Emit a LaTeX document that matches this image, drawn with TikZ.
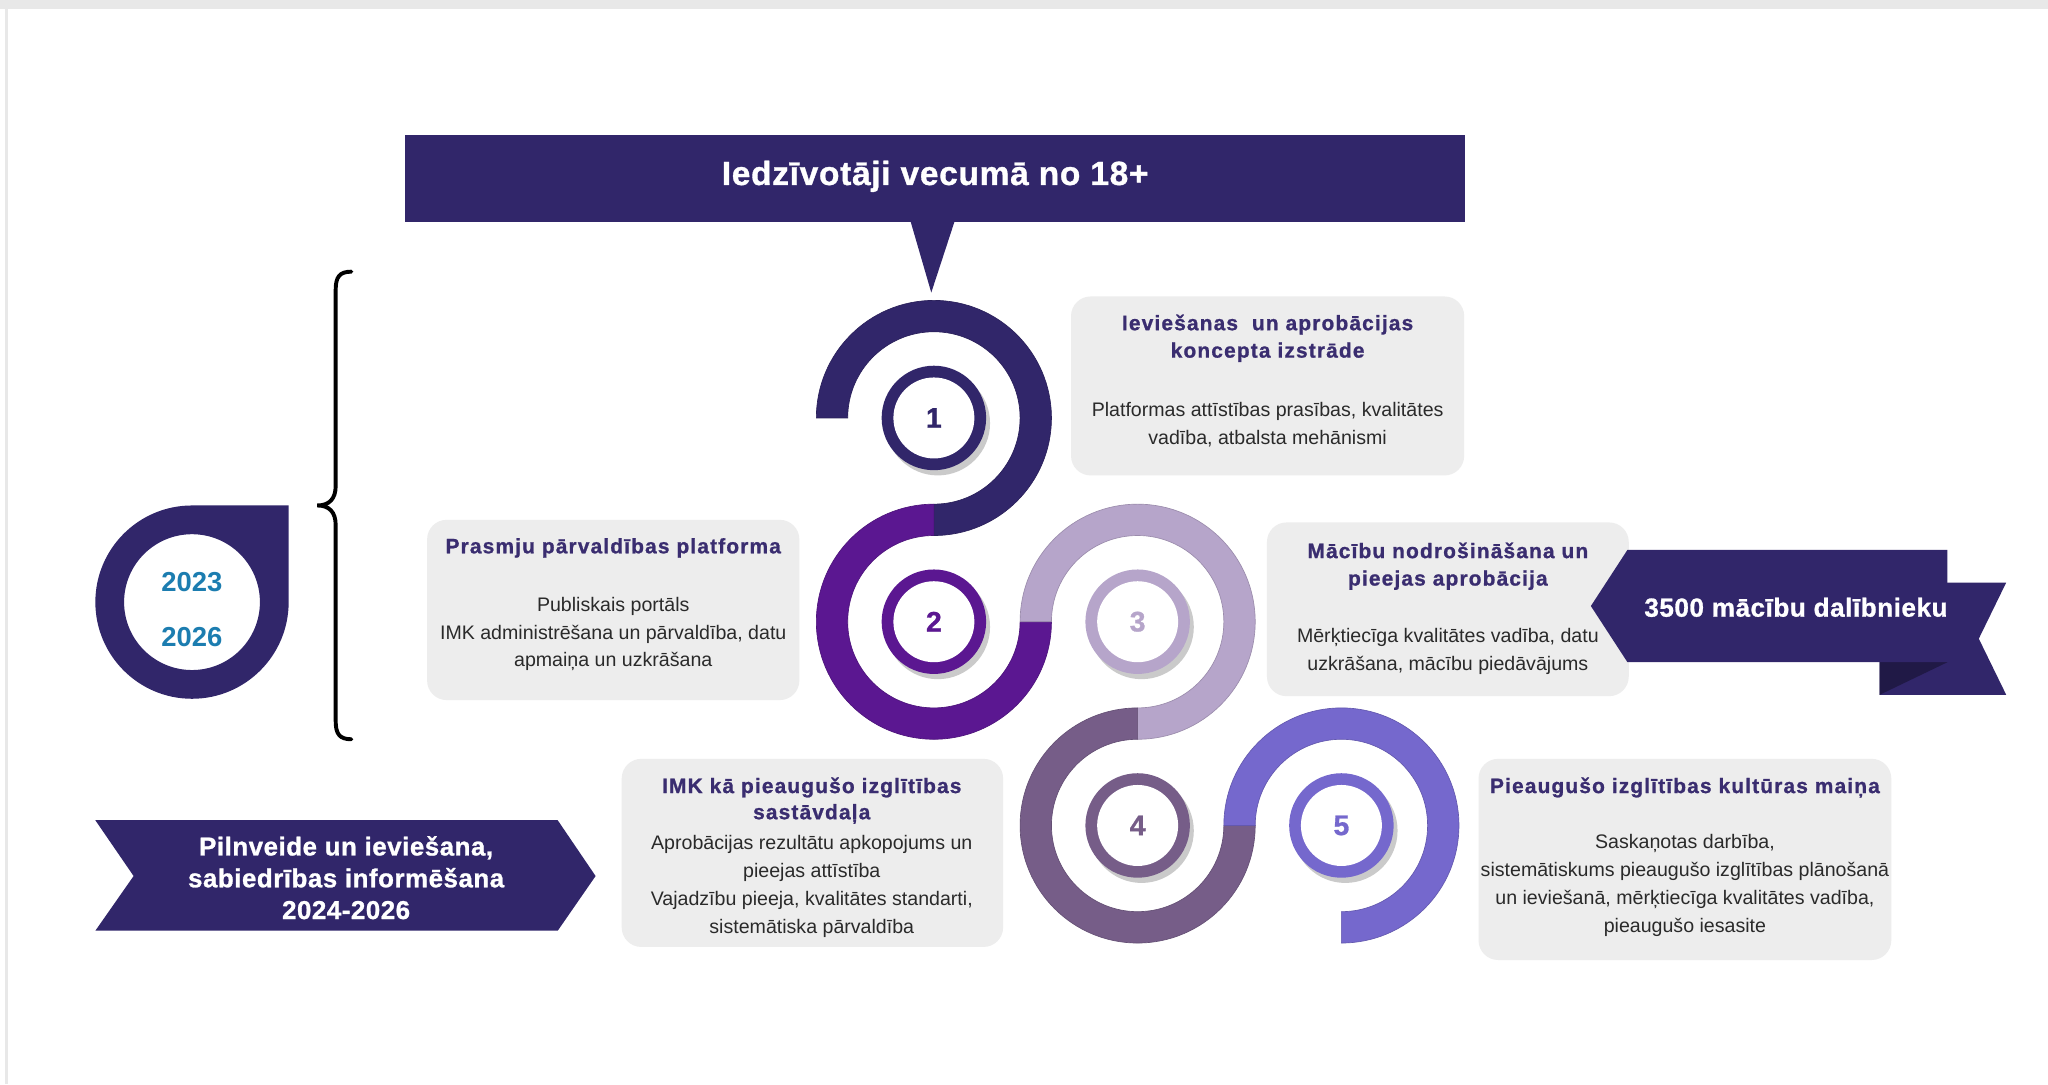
\documentclass[tikz,border=0pt]{standalone}
\usepackage{fontspec}
\setmainfont{Liberation Sans}
\newfontfamily\lsfont{Liberation Sans}[LetterSpace=5.5, BoldFeatures={FakeBold=1}]
\newfontfamily\hdfont{Liberation Sans}[LetterSpace=2, BoldFeatures={FakeBold=1}]
\usetikzlibrary{calc}
\definecolor{dark}{HTML}{31266A}
\definecolor{purpletwo}{HTML}{5B1791}
\definecolor{lavthree}{HTML}{B6A5CA}
\definecolor{mauvefour}{HTML}{765D88}
\definecolor{violetfive}{HTML}{7568CD}
\definecolor{boxgray}{HTML}{EDEDED}
\definecolor{titlecol}{HTML}{3A2D70}
\definecolor{bodycol}{HTML}{2A2A2A}
\definecolor{yearcol}{HTML}{1C7DB0}
\definecolor{foldcol}{HTML}{201946}
\definecolor{framegray}{HTML}{E8E8E8}
\definecolor{shadowgray}{HTML}{BDBDBD}
\newcommand\ringseg[4]{%
  \fill[#4, draw=#4!85!black, line width=0.3pt, shift={(#1)}] (#2:90) arc[start angle=#2,end angle=#3,radius=90]
    -- (#3:66) arc[start angle=#3,end angle=#2,radius=66] -- cycle;}
\newcommand\smallring[3]{%
  \fill[shadowgray, opacity=0.8] ($(#1)+(3,4)$) circle[radius=40];
  \fill[#2] (#1) circle[radius=40];
  \fill[white] (#1) circle[radius=31];
  \node[numtxt, text=#2] (n#3) at (#1) {#3};}
\begin{document}
\begin{tikzpicture}[x=0.6pt,y=-0.6pt,
  ttl/.style={font=\lsfont\bfseries\fontsize{9.6}{12.6}\selectfont, text=titlecol, align=center, inner sep=0pt},
  bdy/.style={font=\fontsize{9}{12.6}\selectfont, text=bodycol, align=center, inner sep=0pt},
  boxfill/.style={fill=boxgray, rounded corners=9pt},
  numtxt/.style={font=\hdfont\bfseries\fontsize{13}{14}\selectfont, inner sep=0pt},
  whitebold/.style={font=\hdfont\bfseries, text=white, align=center, inner sep=0pt},
  yr/.style={font=\bfseries\fontsize{12.6}{14}\selectfont, text=yearcol, inner sep=0pt}]
\useasboundingbox (0,0) rectangle (1568,830);
\fill[white] (0,0) rectangle (1568,830);
\fill[framegray] (0,0) rectangle (1568,7);
\draw[framegray, line width=1pt] (5,7) -- (5,830);

% top banner
\fill[dark] (310,103) rectangle (1122,170);
\fill[dark] (697,169) -- (731,169) -- (713,224) -- cycle;
\node[whitebold, font=\hdfont\bfseries\fontsize{15.4}{17}\selectfont] (topt) at (716,135) {Iedzīvotāji vecumā no 18+};

% centres
\coordinate (C1) at (715,320);
\coordinate (C2) at (715,476);
\coordinate (C3) at (871,476);
\coordinate (C4) at (871,632);
\coordinate (C5) at (1027,632);

% big arcs
\ringseg{C1}{180}{450}{dark}
\ringseg{C2}{0}{270}{purpletwo}
\ringseg{C3}{180}{450}{lavthree}
\ringseg{C4}{0}{270}{mauvefour}
\ringseg{C5}{180}{450}{violetfive}

% small rings
\smallring{C1}{dark}{1}
\smallring{C2}{purpletwo}{2}
\smallring{C3}{lavthree}{3}
\smallring{C4}{mauvefour}{4}
\smallring{C5}{violetfive}{5}

% boxes
\fill[boxfill] (820,227) rectangle (1121,364);
\node[ttl] (t1) at (970.5,259) {Ieviešanas\ \ un aprobācijas\\koncepta izstrāde};
\node[bdy] (b1) at (970.5,325) {Platformas attīstības prasības, kvalitātes\\vadība, atbalsta mehānismi};

\fill[boxfill] (327,398) rectangle (612,536);
\node[ttl] (t2) at (469.5,419.5) {Prasmju pārvaldības platforma};
\node[bdy] (b2) at (469.5,485.5) {Publiskais portāls\\IMK administrēšana un pārvaldība, datu\\apmaiņa un uzkrāšana};

\fill[boxfill] (970,400) rectangle (1247,533);
\node[ttl] (t3) at (1108.5,433.5) {Mācību nodrošināšana un\\pieejas aprobācija};
\node[bdy] (b3) at (1108.5,498.6) {Mērķtiecīga kvalitātes vadība, datu\\uzkrāšana, mācību piedāvājums};

\fill[boxfill] (476,581) rectangle (768,725);
\node[ttl, font=\lsfont\bfseries\fontsize{9.6}{12}\selectfont] (t4) at (621.5,613) {IMK kā pieaugušo izglītības\\sastāvdaļa};
\node[bdy, font=\fontsize{9}{12.8}\selectfont] (b4) at (621.5,678.5) {Aprobācijas rezultātu apkopojums un\\pieejas attīstība\\Vajadzību pieeja, kvalitātes standarti,\\sistemātiska pārvaldība};

\fill[boxfill] (1132,581) rectangle (1448,735);
\node[ttl] (t5) at (1290,603) {Pieaugušo izglītības kultūras maiņa};
\node[bdy, font=\fontsize{9}{12.8}\selectfont] (b5) at (1290,678) {Saskaņotas darbība,\\sistemātiskums pieaugušo izglītības plānošanā\\un ieviešanā, mērķtiecīga kvalitātes vadība,\\pieaugušo iesasite};

% ribbon
\fill[dark] (1439,446) -- (1536,446) -- (1515,489) -- (1536,532) -- (1439,532) -- cycle;
\fill[foldcol] (1439,507) -- (1491,507) -- (1439,532) -- cycle;
\fill[dark] (1218,464) -- (1246,421) -- (1491,421) -- (1491,507) -- (1246,507) -- cycle;
\node[whitebold, font=\hdfont\bfseries\fontsize{12}{13}\selectfont] (rib) at (1375,465) {3500 mācību dalībnieku};

% year drop
\fill[dark, even odd rule] (73,461) arc[start angle=180,end angle=270,radius=74] -- (221,387) -- (221,461)
  arc[start angle=0,end angle=180,radius=74] -- cycle (147,461) circle[radius=52];
\node[yr] (y1) at (147,445.4) {2023};
\node[yr] (y2) at (147,487.5) {2026};

% brace
\draw[line width=1.8pt, line cap=round] (269,208) .. controls (260,208) and (257,212) .. (257,222) -- (257,372)
  .. controls (257,382) and (252,387) .. (243,387) .. controls (252,387) and (257,392) .. (257,402)
  -- (257,552) .. controls (257,562) and (260,566) .. (269,566);

% chevron
\fill[dark] (73,628) -- (427,628) -- (456,670.7) -- (427,712.6) -- (73,712.6) -- (102.3,670.7) -- cycle;
\node[whitebold, font=\hdfont\bfseries\fontsize{11.9}{14.6}\selectfont] (chev) at (265,672) {Pilnveide un ieviešana,\\sabiedrības informēšana\\2024-2026};
\end{tikzpicture}
\end{document}
